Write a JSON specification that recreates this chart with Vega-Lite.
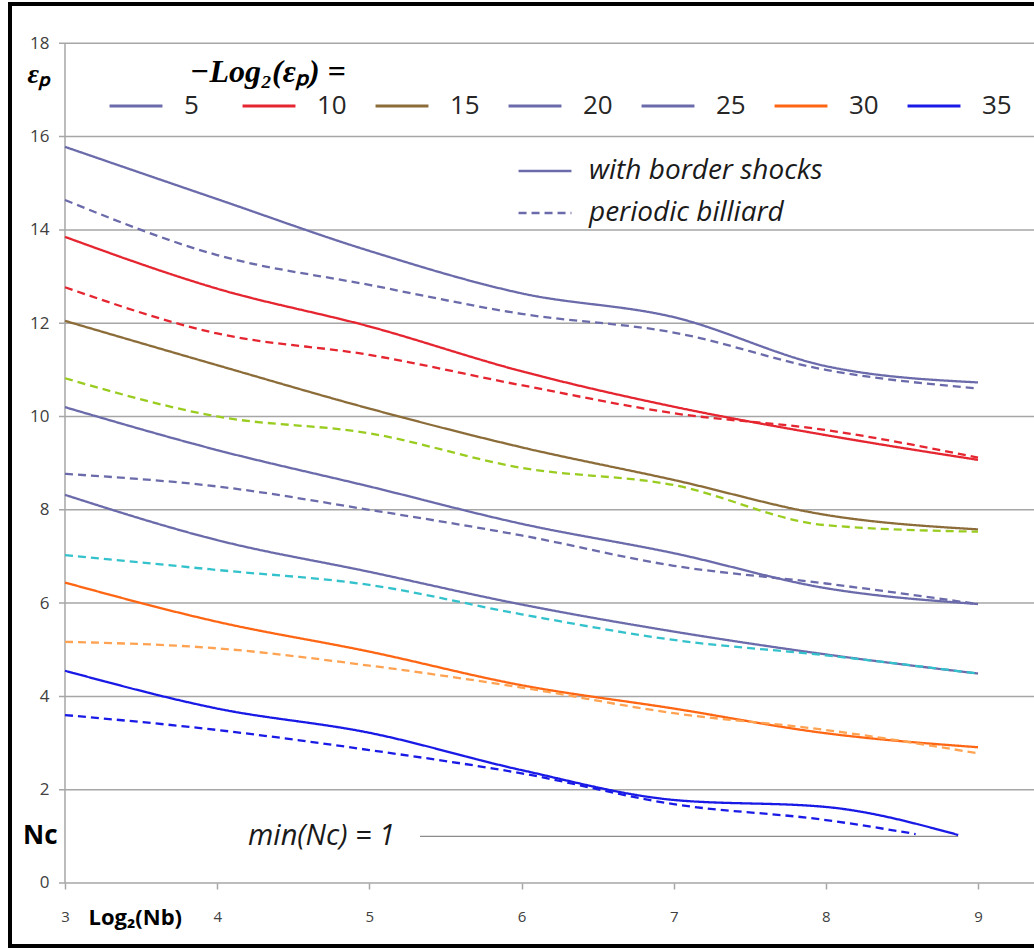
{
  "$schema": "https://vega.github.io/schema/vega-lite/v6.json",
  "width": 1024,
  "height": 942,
  "autosize": {"type": "none"},
  "padding": {"left": 10, "top": 4, "right": 0, "bottom": 3},
  "config": {"font": "Open Sans", "view": {"stroke": null}},
  "datasets": {
    "grid": [{"g":0},{"g":2},{"g":4},{"g":6},{"g":8},{"g":10},{"g":12},{"g":14},{"g":16},{"g":18}],
    "series": [
      {"x":3,"v":15.78,"k":"5","t":"with border shocks"},{"x":4,"v":14.66,"k":"5","t":"with border shocks"},{"x":5,"v":13.55,"k":"5","t":"with border shocks"},{"x":6,"v":12.64,"k":"5","t":"with border shocks"},{"x":7,"v":12.13,"k":"5","t":"with border shocks"},{"x":8,"v":11.08,"k":"5","t":"with border shocks"},{"x":9,"v":10.73,"k":"5","t":"with border shocks"},
      {"x":3,"v":14.64,"k":"5p","t":"periodic billiard"},{"x":4,"v":13.46,"k":"5p","t":"periodic billiard"},{"x":5,"v":12.82,"k":"5p","t":"periodic billiard"},{"x":6,"v":12.2,"k":"5p","t":"periodic billiard"},{"x":7,"v":11.8,"k":"5p","t":"periodic billiard"},{"x":8,"v":11.0,"k":"5p","t":"periodic billiard"},{"x":9,"v":10.6,"k":"5p","t":"periodic billiard"},
      {"x":3,"v":13.85,"k":"10","t":"with border shocks"},{"x":4,"v":12.74,"k":"10","t":"with border shocks"},{"x":5,"v":11.93,"k":"10","t":"with border shocks"},{"x":6,"v":10.97,"k":"10","t":"with border shocks"},{"x":7,"v":10.21,"k":"10","t":"with border shocks"},{"x":8,"v":9.6,"k":"10","t":"with border shocks"},{"x":9,"v":9.07,"k":"10","t":"with border shocks"},
      {"x":3,"v":12.77,"k":"10p","t":"periodic billiard"},{"x":4,"v":11.78,"k":"10p","t":"periodic billiard"},{"x":5,"v":11.32,"k":"10p","t":"periodic billiard"},{"x":6,"v":10.67,"k":"10p","t":"periodic billiard"},{"x":7,"v":10.07,"k":"10p","t":"periodic billiard"},{"x":8,"v":9.71,"k":"10p","t":"periodic billiard"},{"x":9,"v":9.12,"k":"10p","t":"periodic billiard"},
      {"x":3,"v":12.05,"k":"15","t":"with border shocks"},{"x":4,"v":11.1,"k":"15","t":"with border shocks"},{"x":5,"v":10.17,"k":"15","t":"with border shocks"},{"x":6,"v":9.34,"k":"15","t":"with border shocks"},{"x":7,"v":8.64,"k":"15","t":"with border shocks"},{"x":8,"v":7.89,"k":"15","t":"with border shocks"},{"x":9,"v":7.58,"k":"15","t":"with border shocks"},
      {"x":3,"v":10.82,"k":"15p","t":"periodic billiard"},{"x":4,"v":10.0,"k":"15p","t":"periodic billiard"},{"x":5,"v":9.64,"k":"15p","t":"periodic billiard"},{"x":6,"v":8.9,"k":"15p","t":"periodic billiard"},{"x":7,"v":8.53,"k":"15p","t":"periodic billiard"},{"x":8,"v":7.67,"k":"15p","t":"periodic billiard"},{"x":9,"v":7.53,"k":"15p","t":"periodic billiard"},
      {"x":3,"v":10.2,"k":"20","t":"with border shocks"},{"x":4,"v":9.28,"k":"20","t":"with border shocks"},{"x":5,"v":8.5,"k":"20","t":"with border shocks"},{"x":6,"v":7.7,"k":"20","t":"with border shocks"},{"x":7,"v":7.07,"k":"20","t":"with border shocks"},{"x":8,"v":6.32,"k":"20","t":"with border shocks"},{"x":9,"v":5.98,"k":"20","t":"with border shocks"},
      {"x":3,"v":8.77,"k":"20p","t":"periodic billiard"},{"x":4,"v":8.5,"k":"20p","t":"periodic billiard"},{"x":5,"v":8.0,"k":"20p","t":"periodic billiard"},{"x":6,"v":7.45,"k":"20p","t":"periodic billiard"},{"x":7,"v":6.8,"k":"20p","t":"periodic billiard"},{"x":8,"v":6.42,"k":"20p","t":"periodic billiard"},{"x":9,"v":5.98,"k":"20p","t":"periodic billiard"},
      {"x":3,"v":8.32,"k":"25","t":"with border shocks"},{"x":4,"v":7.35,"k":"25","t":"with border shocks"},{"x":5,"v":6.67,"k":"25","t":"with border shocks"},{"x":6,"v":5.97,"k":"25","t":"with border shocks"},{"x":7,"v":5.39,"k":"25","t":"with border shocks"},{"x":8,"v":4.9,"k":"25","t":"with border shocks"},{"x":9,"v":4.49,"k":"25","t":"with border shocks"},
      {"x":3,"v":7.03,"k":"25p","t":"periodic billiard"},{"x":4,"v":6.71,"k":"25p","t":"periodic billiard"},{"x":5,"v":6.39,"k":"25p","t":"periodic billiard"},{"x":6,"v":5.76,"k":"25p","t":"periodic billiard"},{"x":7,"v":5.21,"k":"25p","t":"periodic billiard"},{"x":8,"v":4.88,"k":"25p","t":"periodic billiard"},{"x":9,"v":4.49,"k":"25p","t":"periodic billiard"},
      {"x":3,"v":6.44,"k":"30","t":"with border shocks"},{"x":4,"v":5.6,"k":"30","t":"with border shocks"},{"x":5,"v":4.96,"k":"30","t":"with border shocks"},{"x":6,"v":4.24,"k":"30","t":"with border shocks"},{"x":7,"v":3.74,"k":"30","t":"with border shocks"},{"x":8,"v":3.21,"k":"30","t":"with border shocks"},{"x":9,"v":2.91,"k":"30","t":"with border shocks"},
      {"x":3,"v":5.17,"k":"30p","t":"periodic billiard"},{"x":4,"v":5.03,"k":"30p","t":"periodic billiard"},{"x":5,"v":4.66,"k":"30p","t":"periodic billiard"},{"x":6,"v":4.19,"k":"30p","t":"periodic billiard"},{"x":7,"v":3.64,"k":"30p","t":"periodic billiard"},{"x":8,"v":3.28,"k":"30p","t":"periodic billiard"},{"x":9,"v":2.78,"k":"30p","t":"periodic billiard"},
      {"x":3,"v":4.55,"k":"35","t":"with border shocks"},{"x":4,"v":3.74,"k":"35","t":"with border shocks"},{"x":5,"v":3.22,"k":"35","t":"with border shocks"},{"x":6,"v":2.42,"k":"35","t":"with border shocks"},{"x":7,"v":1.78,"k":"35","t":"with border shocks"},{"x":8,"v":1.63,"k":"35","t":"with border shocks"},{"x":8.87,"v":1.03,"k":"35","t":"with border shocks"},
      {"x":3,"v":3.6,"k":"35p","t":"periodic billiard"},{"x":4,"v":3.28,"k":"35p","t":"periodic billiard"},{"x":5,"v":2.85,"k":"35p","t":"periodic billiard"},{"x":6,"v":2.35,"k":"35p","t":"periodic billiard"},{"x":7,"v":1.69,"k":"35p","t":"periodic billiard"},{"x":8,"v":1.35,"k":"35p","t":"periodic billiard"},{"x":8.59,"v":1.05,"k":"35p","t":"periodic billiard"}
    ]
  },
  "layer": [
    {
      "data": {"name": "grid"},
      "mark": {"type": "rule", "color": "#a6a6a6", "strokeWidth": 1.5},
      "encoding": {
        "y": {"field": "g", "type": "quantitative"},
        "x": {"datum": 2.9606, "type": "quantitative"},
        "x2": {"datum": 9.3679}
      }
    },
    {
      "data": {"values": [{}]},
      "mark": {"type": "rule", "color": "#a6a6a6", "strokeWidth": 1.5},
      "encoding": {
        "x": {"datum": 3, "type": "quantitative"},
        "y": {"datum": 0, "type": "quantitative"},
        "y2": {"datum": 18}
      }
    },
    {
      "data": {"values": [{}]},
      "mark": {"type": "rule", "color": "#8c8c8c", "strokeWidth": 1.3},
      "encoding": {
        "x": {"datum": 5.333, "type": "quantitative"},
        "x2": {"datum": 8.87},
        "y": {"datum": 1, "type": "quantitative"}
      }
    },
    {
      "data": {"name": "series"},
      "mark": {"type": "line", "interpolate": "monotone", "strokeWidth": 2.3},
      "encoding": {
        "x": {
          "field": "x", "type": "quantitative",
          "scale": {"domain": [2.6386, 9.3679], "nice": false, "zero": false},
          "axis": {
            "orient": "bottom", "offset": -63, "values": [3,4,5,6,7,8,9], "format": "d",
            "domain": false, "grid": false, "ticks": true, "tickSize": 6, "tickColor": "#a6a6a6", "tickWidth": 1.5,
            "labelPadding": 20, "labelFontSize": 15, "labelColor": "#404040", "labelFont": "Open Sans",
            "title": "Log₂(Nb)", "titleFont": "Open Sans", "titleFontWeight": "bold", "titleFontSize": 22, "titleColor": "#000000",
            "titleAlign": "left", "titleAnchor": "start", "titleBaseline": "alphabetic", "titleX": 78, "titleY": 41
          }
        },
        "y": {
          "field": "v", "type": "quantitative",
          "scale": {"domain": [-1.3505, 18.842], "nice": false, "zero": false},
          "axis": {
            "orient": "left", "offset": -55, "values": [0,2,4,6,8,10,12,14,16,18],
            "domain": false, "grid": false, "ticks": false,
            "labelPadding": 16, "labelFontSize": 17, "labelColor": "#404040", "labelFont": "Open Sans",
            "title": "εₚ", "titleFont": "Liberation Serif", "titleFontStyle": "italic", "titleFontWeight": "bold", "titleFontSize": 28, "titleColor": "#000000",
            "titleAngle": 0, "titleAlign": "left", "titleBaseline": "alphabetic", "titleX": -38, "titleY": 78
          }
        },
        "color": {
          "field": "k", "type": "nominal",
          "scale": {
            "domain": ["5","10","15","20","25","30","35","5p","10p","15p","20p","25p","30p","35p"],
            "range": ["#6b6bab","#e52530","#8c6d3a","#6b6bab","#6b6bab","#ff6614","#1a1ae6","#6b6bab","#e52530","#99cc1f","#6b6bab","#33c2cc","#ffa352","#1a1ae6"]
          },
          "legend": {
            "orient": "none", "legendX": 98, "legendY": 74, "direction": "horizontal", "columns": 7,
            "title": null, "values": ["5","10","15","20","25","30","35"],
            "symbolType": "stroke", "symbolSize": 2800, "symbolStrokeWidth": 3,
            "labelFont": "Open Sans", "labelFontSize": 26, "labelColor": "#262626", "labelOffset": 20,
            "columnPadding": 22, "gridAlign": "all", "padding": 0
          }
        },
        "strokeDash": {
          "field": "t", "type": "nominal",
          "scale": {"domain": ["with border shocks","periodic billiard"], "range": [[1,0],[8,5]]},
          "legend": {
            "orient": "none", "legendX": 507, "legendY": 139, "direction": "vertical",
            "title": null, "symbolType": "stroke", "symbolSize": 2800, "symbolStrokeWidth": 2.5,
            "symbolStrokeColor": "#6b6bab", "labelLimit": 0,
            "labelFont": "Open Sans", "labelFontStyle": "italic", "labelFontSize": 28, "labelColor": "#1a1a1a", "labelOffset": 16,
            "rowPadding": -22, "padding": 0,
            "encode": {"symbols": {"update": {"stroke": {"value": "#6b6bab"}}}}
          }
        }
      }
    },
    {
      "data": {"values": [{}]},
      "mark": {"type": "text", "text": "Nc", "font": "Open Sans", "fontWeight": "bold", "fontSize": 26, "align": "left", "baseline": "middle", "color": "#000000"},
      "encoding": {
        "x": {"datum": 2.724, "type": "quantitative"},
        "y": {"datum": 1, "type": "quantitative"}
      }
    },
    {
      "data": {"values": [{}]},
      "mark": {"type": "text", "text": "min(Nc) = 1", "font": "Open Sans", "fontStyle": "italic", "fontSize": 29, "align": "left", "baseline": "middle", "color": "#1a1a1a"},
      "encoding": {
        "x": {"datum": 4.203, "type": "quantitative"},
        "y": {"datum": 1, "type": "quantitative"}
      }
    },
    {
      "data": {"values": [{}]},
      "mark": {"type": "text", "text": "−Log₂(εₚ) =", "font": "Liberation Serif", "fontStyle": "italic", "fontWeight": "bold", "fontSize": 32, "align": "left", "baseline": "alphabetic", "color": "#000000"},
      "encoding": {
        "x": {"datum": 3.8215, "type": "quantitative"},
        "y": {"datum": 17.17, "type": "quantitative"}
      }
    },
    {
      "data": {"values": [{}]},
      "mark": {"type": "rule", "color": "#000000", "strokeWidth": 4, "strokeCap": "square"},
      "encoding": {
        "x": {"datum": 2.6386, "type": "quantitative"},
        "x2": {"datum": 9.3679},
        "y": {"datum": 18.842, "type": "quantitative"}
      }
    },
    {
      "data": {"values": [{}]},
      "mark": {"type": "rule", "color": "#000000", "strokeWidth": 4, "strokeCap": "square"},
      "encoding": {
        "x": {"datum": 2.6386, "type": "quantitative"},
        "x2": {"datum": 9.3679},
        "y": {"datum": -1.3505, "type": "quantitative"}
      }
    },
    {
      "data": {"values": [{}]},
      "mark": {"type": "rule", "color": "#000000", "strokeWidth": 4, "strokeCap": "square"},
      "encoding": {
        "x": {"datum": 2.6386, "type": "quantitative"},
        "y": {"datum": -1.3505, "type": "quantitative"},
        "y2": {"datum": 18.842}
      }
    }
  ]
}
